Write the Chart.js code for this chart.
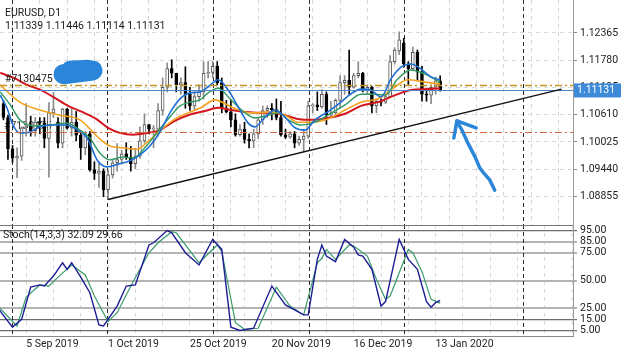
<!DOCTYPE html>
<html>
<head>
<meta charset="utf-8">
<script src="https://cdn.jsdelivr.net/npm/chart.js@4.4.1/dist/chart.umd.min.js"></script>
<style>
  html, body { margin: 0; padding: 0; background: #fff; }
  #wrap { position: relative; width: 625px; height: 352px; overflow: hidden; }
  canvas { position: absolute; left: 0; }
  #price { top: 0; }
  #stoch { top: 225px; }
</style>
</head>
<body>
<div id="wrap">
  <canvas id="price" width="625" height="225"></canvas>
  <canvas id="stoch" width="625" height="127"></canvas>
</div>
<script>
// EURUSD D1, bar 0 = 29 Aug 2019 ... bar 96 = 14 Jan 2020
const open = [1.1085, 1.1055, 1.0988, 1.0968, 1.0972, 1.1033, 1.1037, 1.1027, 1.1045, 1.1043,
  1.1010, 1.1065, 1.1045, 1.1000, 1.1073, 1.1032, 1.1045, 1.1017, 1.0990, 1.1020,
  1.0943, 1.0935, 1.0940, 1.0900, 1.0932, 1.0958, 1.0965, 1.0977, 1.0970, 1.0956,
  1.0972, 1.1005, 1.1040, 1.1030, 1.1030, 1.1070, 1.1120, 1.1160, 1.1150, 1.1125,
  1.1130, 1.1105, 1.1080, 1.1100, 1.1110, 1.1150, 1.1152, 1.1165, 1.1130, 1.1075,
  1.1067, 1.1050, 1.1018, 1.1030, 1.1008, 1.1005, 1.1020, 1.1050, 1.1070, 1.1075,
  1.1072, 1.1055, 1.1018, 1.1013, 1.1020, 1.1000, 1.1008, 1.1015, 1.1080, 1.1082,
  1.1078, 1.1105, 1.1060, 1.1065, 1.1092, 1.1130, 1.1135, 1.1120, 1.1145, 1.1150,
  1.1112, 1.1120, 1.1080, 1.1090, 1.1088, 1.1100, 1.1175, 1.1198, 1.1215, 1.1170,
  1.1160, 1.1195, 1.1153, 1.1105, 1.1103, 1.1120, 1.11339];
const high = [1.1092, 1.1060, 1.0995, 1.0990, 1.1035, 1.1085, 1.1058, 1.1055, 1.1055, 1.1055,
  1.1087, 1.1109, 1.1055, 1.1075, 1.1075, 1.1075, 1.1068, 1.1027, 1.1025, 1.1025,
  1.0960, 1.0960, 1.0945, 1.0943, 1.0963, 1.0999, 1.0985, 1.1001, 1.0993, 1.0989,
  1.1035, 1.1063, 1.1040, 1.1038, 1.1085, 1.1140, 1.1172, 1.1179, 1.1150, 1.1140,
  1.1164, 1.1120, 1.1110, 1.1125, 1.1175, 1.1175, 1.1176, 1.1175, 1.1140, 1.1092,
  1.1093, 1.1063, 1.1040, 1.1045, 1.1020, 1.1030, 1.1055, 1.1080, 1.1080, 1.1085,
  1.1095, 1.1090, 1.1030, 1.1025, 1.1025, 1.1015, 1.1030, 1.1090, 1.1085, 1.1110,
  1.1115, 1.1110, 1.1090, 1.1095, 1.1145, 1.1145, 1.1200, 1.1150, 1.1175, 1.1152,
  1.1125, 1.1122, 1.1095, 1.1095, 1.1105, 1.1188, 1.1205, 1.1239, 1.1225, 1.1175,
  1.1206, 1.1200, 1.1165, 1.1115, 1.1125, 1.1142, 1.11446];
const low = [1.1050, 1.0965, 1.0959, 1.0926, 1.0963, 1.1015, 1.1015, 1.1015, 1.1020, 1.0990,
  1.0927, 1.1055, 1.0990, 1.0990, 1.1030, 1.1015, 1.1005, 1.0965, 1.0975, 1.0940,
  1.0922, 1.0905, 1.0885, 1.0879, 1.0925, 1.0940, 1.0955, 1.0965, 1.0940, 1.0945,
  1.0968, 1.1000, 1.1020, 1.0990, 1.1015, 1.1060, 1.1110, 1.1140, 1.1110, 1.1105,
  1.1075, 1.1070, 1.1070, 1.1090, 1.1095, 1.1140, 1.1140, 1.1125, 1.1065, 1.1065,
  1.1035, 1.1015, 1.1015, 1.1000, 1.0990, 1.0990, 1.1010, 1.1040, 1.1055, 1.1050,
  1.1050, 1.1015, 1.1010, 1.1010, 1.0990, 1.0995, 1.0981, 1.1010, 1.1065, 1.1070,
  1.1075, 1.1040, 1.1055, 1.1060, 1.1075, 1.1105, 1.1105, 1.1118, 1.1140, 1.1110,
  1.1105, 1.1065, 1.1065, 1.1080, 1.1085, 1.1100, 1.1170, 1.1190, 1.1163, 1.1126,
  1.1155, 1.1135, 1.1090, 1.1090, 1.1085, 1.1105, 1.11114];
const close = [1.1055, 1.0988, 1.0968, 1.0972, 1.1033, 1.1037, 1.1027, 1.1045, 1.1043, 1.1010,
  1.1065, 1.1073, 1.1000, 1.1073, 1.1032, 1.1045, 1.1017, 1.0990, 1.1020, 1.0943,
  1.0935, 1.0940, 1.0900, 1.0932, 1.0958, 1.0965, 1.0977, 1.0970, 1.0956, 1.0972,
  1.1005, 1.1040, 1.1030, 1.1030, 1.1070, 1.1120, 1.1160, 1.1150, 1.1125, 1.1130,
  1.1105, 1.1080, 1.1100, 1.1110, 1.1150, 1.1152, 1.1165, 1.1130, 1.1075, 1.1067,
  1.1050, 1.1018, 1.1030, 1.1008, 1.1005, 1.1020, 1.1050, 1.1070, 1.1075, 1.1072,
  1.1055, 1.1018, 1.1013, 1.1020, 1.1000, 1.1008, 1.1015, 1.1080, 1.1082, 1.1078,
  1.1105, 1.1060, 1.1065, 1.1092, 1.1130, 1.1135, 1.1120, 1.1145, 1.1150, 1.1112,
  1.1120, 1.1080, 1.1090, 1.1088, 1.1100, 1.1175, 1.1200, 1.1222, 1.1170, 1.1160,
  1.1195, 1.1153, 1.1105, 1.1103, 1.1120, 1.1134, 1.11131];

// moving averages: [bar, price]
const maBlue = [[-0.7, 1.1103], [0.8, 1.1075], [2.1, 1.1039], [3.6, 1.1022], [5.8, 1.1024], [8, 1.1035],
  [10.9, 1.1039], [14, 1.1039], [16.2, 1.1028], [18.4, 1.1011], [20.6, 1.0964], [22.8, 1.0949],
  [25.2, 1.0955], [27.8, 1.0962], [30, 1.0975], [32.2, 1.0994], [34.4, 1.1024], [36.6, 1.1065],
  [38.8, 1.1095], [41, 1.1108], [43.2, 1.1110], [45, 1.1121], [47.2, 1.1136], [49.4, 1.1114],
  [51.6, 1.1078], [53.8, 1.1043], [55.3, 1.1035], [57.5, 1.1056], [59.7, 1.1071], [61.9, 1.1056],
  [64.1, 1.1033], [66.3, 1.1028], [68.5, 1.1050], [71.3, 1.1067], [74.2, 1.1088], [76.4, 1.1106],
  [78.6, 1.1116], [80.8, 1.1114], [83, 1.1099], [85.2, 1.1138], [87.4, 1.1163], [89.6, 1.1170],
  [91.8, 1.1159], [94, 1.1142], [96, 1.1136]];
const maGreen = [[-0.7, 1.1110], [1.5, 1.1082], [3.6, 1.1050], [6.5, 1.1037], [10.2, 1.1039], [14, 1.1043],
  [16.8, 1.1028], [19, 1.1011], [21.2, 1.0979], [23.4, 1.0964], [26.1, 1.0970], [28.5, 1.0968],
  [31.6, 1.0996], [34, 1.1026], [36.6, 1.1056], [38.8, 1.1080], [41, 1.1088], [43.2, 1.1093],
  [45, 1.1108], [47.2, 1.1118], [50, 1.1093], [53.1, 1.1065], [55.3, 1.1054], [58.2, 1.1060],
  [60.4, 1.1065], [62.6, 1.1050], [65.4, 1.1039], [68.5, 1.1045], [71.3, 1.1060], [75.1, 1.1082],
  [78.6, 1.1105], [81.7, 1.1105], [83.9, 1.1103], [86.7, 1.1138], [89.6, 1.1157], [92.7, 1.1148],
  [96, 1.1131]];
const maOrange = [[-0.7, 1.1125], [3.6, 1.1088], [8, 1.1071], [12.4, 1.1060], [16.8, 1.1050], [21.2, 1.1009],
  [23.4, 1.0994], [26.3, 1.0990], [29.4, 1.0987], [31.6, 1.1002], [34.6, 1.1028], [37.7, 1.1052],
  [40.6, 1.1065], [43.4, 1.1076], [46.5, 1.1093], [50, 1.1078], [53.1, 1.1067], [55.9, 1.1065],
  [58.8, 1.1067], [61.9, 1.1060], [64.7, 1.1045], [67.6, 1.1045], [71.3, 1.1052], [75.1, 1.1071],
  [78.6, 1.1088], [82.3, 1.1095], [86.1, 1.1121], [88.9, 1.1136], [92.7, 1.1131], [96, 1.1127]];
const maRed = [[-0.7, 1.1151], [2.3, 1.1140], [5.2, 1.1125], [8.3, 1.1114], [11.3, 1.1097], [14.2, 1.1080],
  [17.3, 1.1067], [20.4, 1.1052], [23, 1.1033], [25.6, 1.1022], [28.5, 1.1018], [31.6, 1.1022],
  [34.4, 1.1028], [37.7, 1.1048], [40.6, 1.1060], [44.3, 1.1069], [47.2, 1.1076], [50, 1.1071],
  [53.1, 1.1067], [55.9, 1.1065], [58.8, 1.1065], [61.9, 1.1060], [64.7, 1.1052], [67.6, 1.1050],
  [71.3, 1.1054], [75.1, 1.1063], [78.6, 1.1080], [82.3, 1.1088], [86.1, 1.1103], [89.6, 1.1114],
  [93.3, 1.1116], [96, 1.1118]];

// Stoch(14,3,3) main and signal: [bar, value]
const stochK = [[-1, 24], [2, 8], [4, 15], [6, 44], [8, 46], [9, 45], [11, 54], [13, 66], [14, 60], [15, 66],
  [17, 53], [19, 39], [21, 10], [22, 9], [25, 27], [27, 45], [29, 46], [32, 82], [33, 84], [36, 95],
  [37, 93], [40, 75], [43, 64], [46, 87], [48, 78], [50, 8], [52, 5], [55, 7], [59, 45], [62, 28],
  [66, 19], [67, 19], [69, 69], [70, 82], [71, 72], [73, 67], [75, 87], [77, 80], [78, 73], [79, 72],
  [81, 60], [83, 27], [84, 31], [87, 87], [89, 69], [91, 60], [93, 31], [94, 26], [95, 30], [96, 32.09]];
const stochD = [[-1, 26], [3, 9], [5, 35], [8, 46], [10, 45], [12, 53], [15, 64], [18, 55], [20, 36], [23, 13],
  [25, 21], [28, 45], [32, 75], [34, 84], [37, 94], [38, 93], [43, 66], [47, 82], [48, 76], [51, 12],
  [53, 6], [56, 7], [60, 44], [63, 27], [66, 19], [69, 66], [70, 70], [71, 78], [73, 69], [76, 82],
  [77, 81], [80, 72], [82, 51], [84, 33], [85, 36], [89, 78], [90, 75], [92, 58], [94, 33], [96, 29.66]];

const priceTicks = [1.12365, 1.11780, 1.11195, 1.10610, 1.10025, 1.09440, 1.08855];
const stochLevels = [95, 85, 75, 50, 25, 15, 5];
const dateLabels = ['5 Sep 2019', '1 Oct 2019', '25 Oct 2019', '20 Nov 2019', '16 Dec 2019', '13 Jan 2020'];
const dateLabelBars = [5, 23, 41, 59, 77, 95];
const monthStarts = [1.9, 22.8, 46, 67.2, 88, 114.2];

const bid = 1.11131;
const orderLevel = 1.11245;
const lowerLevel = 1.1024;
const trendLine = [[23, 1.0879], [122.7, 1.1116]];

// visible window
const xView = { min: -0.75, max: 125.2 };
const priceView = { min: 1.08243, max: 1.13073 };

Chart.defaults.font.family = 'Roboto';
Chart.defaults.color = '#222';

const pts = a => a.map(([x, y]) => ({ x, y }));
const bars = close.map((c, i) => i);
const up = bars.map(i => close[i] >= open[i]);

function noPad(s) { s.paddingTop = 0; s.paddingBottom = 0; s.paddingLeft = 0; s.paddingRight = 0; }
function gridTicks(s) {
  const t = [];
  for (let i = 5; i <= xView.max; i += 6) t.push({ value: i });
  s.ticks = t;
}
function line(ctx, x1, y1, x2, y2) { ctx.beginPath(); ctx.moveTo(x1, y1); ctx.lineTo(x2, y2); ctx.stroke(); }
function separators(chart) {
  const { ctx, chartArea: a, scales: { x } } = chart;
  ctx.save();
  ctx.strokeStyle = '#2a2a2a';
  ctx.lineWidth = 1;
  ctx.setLineDash([4, 3]);
  monthStarts.forEach(m => {
    const px = Math.round(x.getPixelForValue(m)) + 0.5;
    line(ctx, px, a.top, px, a.bottom);
  });
  ctx.restore();
}

const priceOverlay = {
  id: 'priceOverlay',
  beforeDatasetsDraw(chart) {
    separators(chart);
    const { ctx, scales: { y } } = chart;
    ctx.save();
    ctx.font = '10.5px Roboto';
    ctx.fillStyle = '#333';
    ctx.fillText('#7130475', 4, y.getPixelForValue(lowerLevel) - 3);
    ctx.restore();
  },
  afterDatasetsDraw(chart) {
    const { ctx, chartArea: a, scales: { x, y } } = chart;
    ctx.save();
    // order level and lower level (dash-dot)
    let py = Math.round(y.getPixelForValue(orderLevel)) + 0.5;
    ctx.strokeStyle = '#c39421';
    ctx.lineWidth = 1.5;
    ctx.setLineDash([7, 3, 2, 3]);
    line(ctx, a.left, py, a.right, py);
    py = Math.round(y.getPixelForValue(lowerLevel)) + 0.5;
    ctx.strokeStyle = '#cf6a3c';
    ctx.lineWidth = 1;
    line(ctx, a.left, py, a.right, py);
    // bid line
    ctx.setLineDash([]);
    py = Math.round(y.getPixelForValue(bid)) + 0.5;
    ctx.strokeStyle = '#4a86c8';
    line(ctx, a.left, py, a.right, py);
    // trend line
    ctx.strokeStyle = '#111';
    ctx.lineWidth = 1.4;
    line(ctx, x.getPixelForValue(trendLine[0][0]), y.getPixelForValue(trendLine[0][1]),
      x.getPixelForValue(trendLine[1][0]), y.getPixelForValue(trendLine[1][1]));
    ctx.restore();
  },
  afterDraw(chart) {
    const { ctx, chartArea: a, scales: { x, y } } = chart;
    const n = close.length - 1;
    ctx.save();
    ctx.fillStyle = '#1a1a1a';
    ctx.font = '10.5px Roboto';
    ctx.fillText('EURUSD, D1', 5, 16);
    ctx.fillText([open[n], high[n], low[n], close[n]].map(v => v.toFixed(5)).join(' '), 5, 29);
    ctx.fillText('#7130475', 5, y.getPixelForValue(orderLevel) - 3);
    // bid price box
    const by = y.getPixelForValue(bid);
    ctx.fillStyle = '#3d8bd8';
    ctx.fillRect(a.right + 1, by - 7, 47, 14);
    ctx.fillStyle = '#fff';
    ctx.textBaseline = 'middle';
    ctx.fillText(bid.toFixed(5), a.right + 4, by);
    // hand drawn marks
    ctx.strokeStyle = '#2b86da';
    ctx.fillStyle = '#2b86da';
    ctx.lineCap = 'round';
    ctx.lineJoin = 'round';
    ctx.lineWidth = 20;
    ctx.beginPath();
    ctx.moveTo(x.getPixelForValue(13.2), y.getPixelForValue(1.1148));
    ctx.lineTo(x.getPixelForValue(19.6), y.getPixelForValue(1.1156));
    ctx.stroke();
    ctx.lineWidth = 14;
    ctx.beginPath();
    ctx.moveTo(x.getPixelForValue(14.5), y.getPixelForValue(1.1162));
    ctx.lineTo(x.getPixelForValue(18.5), y.getPixelForValue(1.1164));
    ctx.stroke();
    const arrow = [[108, 1.0899], [106.9, 1.0921], [105.4, 1.0938], [104.7, 1.0947], [103.7, 1.0970],
      [102.1, 1.1000], [100.8, 1.1028], [99.9, 1.1043], [99.7, 1.1048]];
    ctx.lineWidth = 3.5;
    ctx.beginPath();
    arrow.forEach(([i, p], k) => {
      const px = x.getPixelForValue(i), pyy = y.getPixelForValue(p);
      k ? ctx.lineTo(px, pyy) : ctx.moveTo(px, pyy);
    });
    ctx.stroke();
    ctx.beginPath();
    ctx.moveTo(x.getPixelForValue(99.0), y.getPixelForValue(1.1011));
    ctx.lineTo(x.getPixelForValue(99.7), y.getPixelForValue(1.1048));
    ctx.lineTo(x.getPixelForValue(103.9), y.getPixelForValue(1.1033));
    ctx.stroke();
    ctx.restore();
  }
};

const maLine = (data, color, width, order) => ({
  type: 'line', data: pts(data), borderColor: color, borderWidth: width,
  pointRadius: 0, cubicInterpolationMode: 'monotone', order
});

new Chart(document.getElementById('price'), {
  type: 'bar',
  data: {
    datasets: [
      maLine(maBlue, '#1f6fd2', 1.6, 1),
      maLine(maGreen, '#2f9a62', 1.4, 2),
      maLine(maOrange, '#f3a21f', 1.6, 3),
      maLine(maRed, '#d4161f', 2, 4),
      {
        data: bars.map(i => ({ x: i, y: [open[i], close[i]] })),
        backgroundColor: up.map(u => u ? '#fff' : '#000'),
        borderColor: up.map(u => u ? '#555' : '#000'),
        borderWidth: 1, borderSkipped: false, barThickness: 3, minBarLength: 1,
        grouped: false, order: 5
      },
      {
        data: bars.map(i => ({ x: i, y: [low[i], high[i]] })),
        backgroundColor: up.map(u => u ? '#8a8a8a' : '#000'),
        barThickness: 1, grouped: false, order: 6
      }
    ]
  },
  options: {
    responsive: false, animation: false, events: [],
    layout: { padding: 0 },
    plugins: { legend: { display: false }, tooltip: { enabled: false } },
    scales: {
      x: {
        type: 'linear', min: xView.min, max: xView.max, offset: false,
        afterBuildTicks: gridTicks,
        afterFit(s) { s.height = 0; noPad(s); },
        ticks: { display: false },
        grid: { color: '#d9d9d9', drawTicks: false },
        border: { display: false, dash: [4, 4] }
      },
      y: {
        position: 'right', min: priceView.min, max: priceView.max,
        afterBuildTicks(s) { s.ticks = priceTicks.map(v => ({ value: v })); },
        afterFit(s) { s.width = 52; noPad(s); },
        ticks: { callback: v => v.toFixed(5), font: { size: 10.5 }, padding: 3, color: '#222' },
        grid: { color: '#d9d9d9', tickLength: 4, tickColor: '#888' },
        border: { color: '#9a9a9a', dash: [4, 4] }
      }
    }
  },
  plugins: [priceOverlay]
});

const stochOverlay = {
  id: 'stochOverlay',
  beforeDatasetsDraw(chart) { separators(chart); },
  afterDraw(chart) {
    const { ctx, chartArea: a } = chart;
    ctx.save();
    ctx.strokeStyle = '#777';
    ctx.lineWidth = 1;
    line(ctx, 0, a.top + 0.5, a.right, a.top + 0.5);
    ctx.fillStyle = '#1a1a1a';
    ctx.font = '10.5px Roboto';
    const k = stochK[stochK.length - 1][1], d = stochD[stochD.length - 1][1];
    ctx.fillText('Stoch(14,3,3) ' + k.toFixed(2) + ' ' + d.toFixed(2), 3, a.top + 13);
    ctx.restore();
  }
};

const darkLevels = [95, 15, 5];
new Chart(document.getElementById('stoch'), {
  type: 'line',
  data: {
    datasets: [
      { data: pts(stochK), borderColor: '#1d1d96', borderWidth: 1.4, pointRadius: 0, tension: 0 },
      { data: pts(stochD), borderColor: '#3a9b6a', borderWidth: 1.2, pointRadius: 0, tension: 0 }
    ]
  },
  options: {
    responsive: false, animation: false, events: [],
    layout: { padding: 0 },
    plugins: { legend: { display: false }, tooltip: { enabled: false } },
    scales: {
      x: {
        type: 'linear', min: xView.min, max: xView.max, offset: false,
        afterBuildTicks: gridTicks,
        afterFit(s) { s.height = 16; noPad(s); },
        ticks: {
          autoSkip: false, maxRotation: 0, minRotation: 0, align: 'start', padding: 2,
          font: { size: 10.5 },
          callback(v) { const k = dateLabelBars.indexOf(v); return k < 0 ? '' : dateLabels[k]; }
        },
        grid: { color: '#d9d9d9', drawTicks: false },
        border: { color: '#8a8a8a', dash: [4, 4] }
      },
      y: {
        position: 'right', min: 0, max: 100,
        afterBuildTicks(s) { s.ticks = stochLevels.map(v => ({ value: v })); },
        afterFit(s) { s.width = 52; noPad(s); },
        ticks: { callback: v => v.toFixed(2), font: { size: 10.5 }, padding: 3 },
        grid: {
          color: c => darkLevels.includes(c.tick && c.tick.value) ? '#6e6e6e' : '#b4b4b4',
          lineWidth: c => darkLevels.includes(c.tick && c.tick.value) ? 1.2 : 2,
          tickLength: 4
        },
        border: { color: '#9a9a9a' }
      }
    }
  },
  plugins: [stochOverlay]
});
</script>
</body>
</html>
